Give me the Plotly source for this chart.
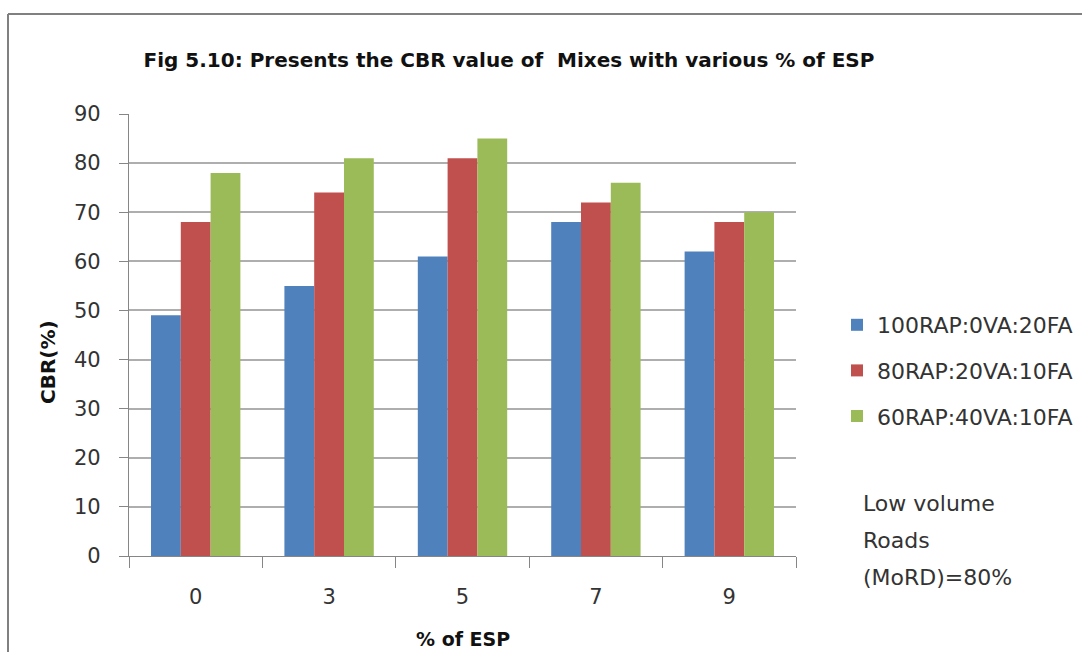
import plotly.graph_objects as go

# CBR (%) of the three mixes at each ESP content
esp_percent = ["0", "3", "5", "7", "9"]
mix_names = ["100RAP:0VA:20FA", "80RAP:20VA:10FA", "60RAP:40VA:10FA"]
cbr_mix1 = [49, 55, 61, 68, 62]
cbr_mix2 = [68, 74, 81, 72, 68]
cbr_mix3 = [78, 81, 85, 76, 70]
mix_colors = ["#4F81BD", "#C0504D", "#9BBB59"]
y_ticks = [0, 10, 20, 30, 40, 50, 60, 70, 80, 90]

FONT = "DejaVu Sans"
TEXT = "#333333"
AXIS = "#868686"

W, H = 1082, 652
ML, MR, MT, MB = 129, 286, 114, 96
PW, PH = W - ML - MR, H - MT - MB


def px(x):
    return (x - ML) / PW


def py(y):
    return (H - MB - y) / PH


fig = go.Figure()
for i, (name, vals) in enumerate(zip(mix_names, [cbr_mix1, cbr_mix2, cbr_mix3])):
    fig.add_trace(go.Bar(
        x=esp_percent, y=vals, name=name,
        marker=dict(color=mix_colors[i], line=dict(width=0)),
        legendgroup=f"g{i}",
    ))

fig.update_layout(
    width=W, height=H,
    margin=dict(l=ML, r=MR, t=MT, b=MB, pad=0, autoexpand=False),
    paper_bgcolor="white", plot_bgcolor="white",
    barmode="group", bargap=0.33, bargroupgap=0,
    font=dict(family=FONT, size=21, color=TEXT),
    title=dict(
        text="<b>Fig 5.10: Presents the CBR value of  Mixes with various % of ESP</b>",
        x=509 / W, xanchor="center", y=1 - 60 / H, yanchor="middle",
        font=dict(family=FONT, size=20, color="#111111"),
    ),
    xaxis=dict(
        type="category", showline=True, linecolor=AXIS, linewidth=1.3,
        ticks="outside", tickson="boundaries", ticklen=11, tickcolor=AXIS,
        tickwidth=1.3, showgrid=False, ticklabelstandoff=22,
        tickfont=dict(size=21, color=TEXT),
    ),
    yaxis=dict(
        range=[0, 90], tickvals=y_ticks, showline=True, linecolor=AXIS,
        linewidth=1.3, ticks="outside", ticklen=9, tickcolor=AXIS, tickwidth=1.3,
        showgrid=True, gridcolor="#AEAEAE", gridwidth=1.5, zeroline=False,
        ticklabelstandoff=14, tickfont=dict(size=21, color=TEXT),
    ),
    legend=dict(
        x=px(837), y=py(304), xanchor="left", yanchor="top",
        font=dict(size=22, color=TEXT), tracegroupgap=14,
        bgcolor="rgba(0,0,0,0)", itemclick=False,
    ),
    showlegend=True,
)

# axis titles
fig.add_annotation(
    text="<b>% of ESP</b>", xref="paper", yref="paper",
    x=px(463), y=py(639), xanchor="center", yanchor="middle",
    showarrow=False, font=dict(family=FONT, size=19, color="#111111"),
)
fig.add_annotation(
    text="<b>CBR(%)</b>", xref="paper", yref="paper", textangle=-90,
    x=px(48), y=py(362), xanchor="center", yanchor="middle",
    showarrow=False, font=dict(family=FONT, size=20, color="#111111"),
)

# side note on the design requirement
for line, yc in zip(["Low volume", "Roads", "(MoRD)=80%"], [503, 540, 577]):
    fig.add_annotation(
        text=line, xref="paper", yref="paper",
        x=px(861), y=py(yc), xanchor="left", yanchor="middle",
        showarrow=False, font=dict(family=FONT, size=22, color=TEXT),
    )

# outer frame (top and left edges)
frame = dict(color="#808080", width=2)
fig.add_shape(type="line", xref="paper", yref="paper",
              x0=px(8), x1=px(1082), y0=py(14), y1=py(14), line=frame)
fig.add_shape(type="line", xref="paper", yref="paper",
              x0=px(8), x1=px(8), y0=py(14), y1=py(652), line=frame)

fig.write_html("out.html")
